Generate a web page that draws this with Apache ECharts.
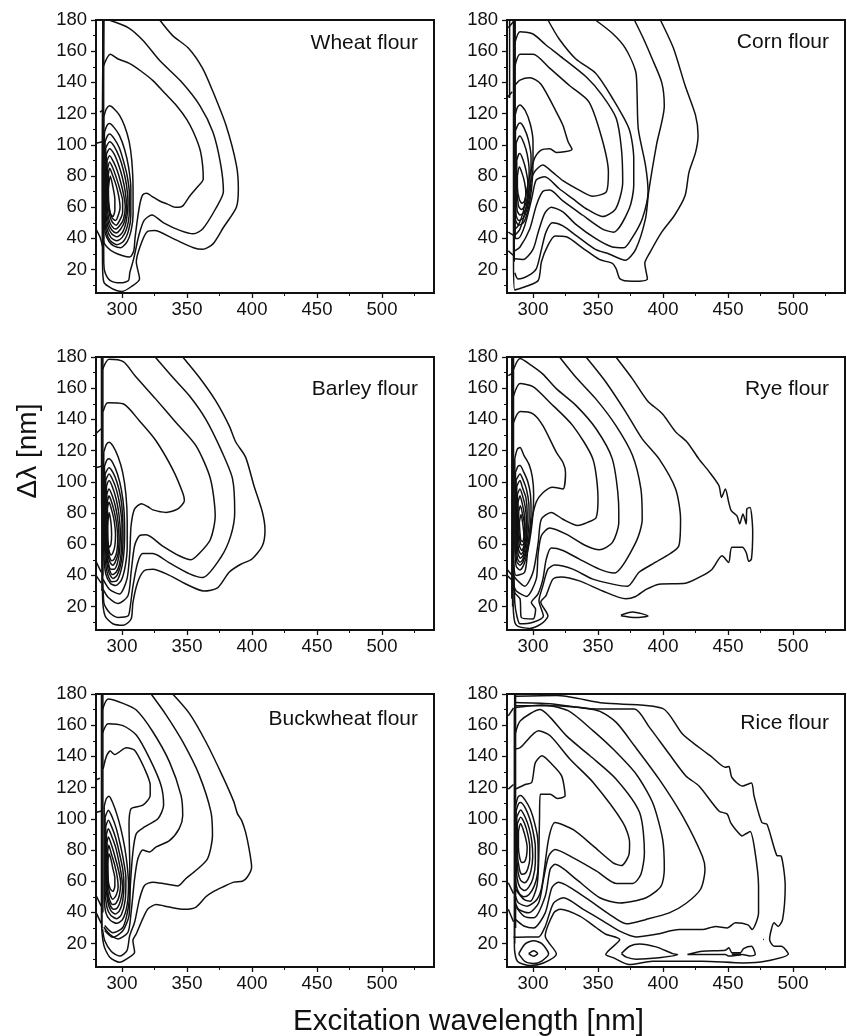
<!DOCTYPE html>
<html><head><meta charset="utf-8">
<style>html,body{margin:0;padding:0;background:#fff}#c{width:847px;height:1036px}</style>
<script src="https://cdn.jsdelivr.net/npm/echarts@6/dist/echarts.min.js"></script>
</head><body><div id="c"></div>
<script>
const xTicks=[300,350,400,450,500];
const xMinor=[325,375,425,475,525];
const yTicks=[20,40,60,80,100,120,140,160,180];
const yMinor=[10,30,50,70,90,110,130,150,170];
const xTitle="Excitation wavelength [nm]";
const yTitle="\u0394\u03bb [nm]";

const wheat=[
[[329,180],[339,170],[351,162],[362,149],[370,134],[380,112.5],[388,87],[389.5,72],[388,60],[378,47],[370,36.5],[362,33],[355,34],[339,40],[325,45],[319,44],[314,35],[311,25],[313.5,14],[307,9],[300,6],[292,8],[286,12],[285,25],[284.7,83],[285.5,180]],
[[290,180],[305,175],[316,167],[329,154],[345,141],[360,125],[370,108],[376,87],[378,70],[372,59],[362,46],[355,43],[345,45],[332,50],[323,55],[317,51.5],[313,42],[309,27],[306,18],[305,13],[299,11.5],[291,13],[287,18],[286,24],[285.5,125],[286,180]],
[[285.5,150],[291,158],[297,155],[306,152],[315,147],[324,141],[333,133],[342,125],[350,116],[355,108],[360,97],[362,87],[362.5,78],[357,72],[352,67],[347,61],[344,60],[341,60],[335,62],[329,64],[323,67],[319,69],[316,68],[314,63],[312,53],[310,40],[309,32],[306,28],[300,29],[294,31],[289,34],[286,38],[285.5,60],[285.5,150]],
[[286,118],[288,123],[290.5,125],[294,123],[298,119],[302,112],[305.5,102],[307.5,90],[308.5,72],[308.5,55],[307,45],[304,38],[299,34],[294,35],[290,38],[287,44],[286,60],[285.8,90],[286,118]],
[[286.5,108],[288.5,112.5],[290.5,113.6],[294,111],[298,106],[302,97],[305,86],[306.8,72],[306.8,55],[305,45],[301,38],[296,36],[291,38.5],[288,44],[286.5,55],[286.2,85],[286.5,108]],
[[287,102],[289,106],[290.5,107],[294,104],[298,98],[301,90],[304,80],[305.7,68],[305.5,55],[303.5,46],[300,40.5],[296,38.5],[291.5,40.5],[288.5,46],[287,56],[286.8,82],[287,102]],
[[287.5,98],[290.5,102],[294,99],[298,92],[301,84],[303.5,74],[304.6,63],[303.5,52],[300.5,44],[296,41],[292,43],[289,48],[287.5,58],[287.3,80],[287.5,98]],
[[288,94],[290.5,97.5],[294,94],[297,88],[300,80],[302.5,70],[303.5,60],[302,51],[299,46],[295.5,43.5],[292,45.5],[289.5,50],[288,60],[288,94]],
[[288.5,90],[290.5,93],[293.5,89],[296.5,83],[299,76],[301.5,67],[302.5,60],[301,52],[298,48],[295,46],[292,48],[290,52],[288.5,62],[288.5,90]],
[[289,85],[290.5,89],[293,85],[296,78],[298.5,71],[300.5,64],[300.5,57],[298.5,52],[295.5,48.5],[292.5,50.5],[290.5,55],[289,65],[289,85]],
[[289.5,81],[290.5,85],[293,80],[295.5,74],[297.5,67],[298.5,60],[297,54.5],[295,51.5],[292.5,53],[290.5,58],[289.5,68],[289.5,81]],
[[289.5,72],[291,80],[293,73],[294.5,65],[294.5,58],[293,54],[291,56],[289.5,64],[289.5,72]],
[[290.5,69],[291,69]],
[[285.2,180],[285.2,30]],[[285.9,180],[285.9,40]],
[[280,46],[283,41],[285,35]],[[280,101],[285,102]],[[283,121],[285,122]]
];

const corn=[
[[398,180],[408,162],[417,138],[425,119],[427,106],[425,95],[420,82.5],[417,67.5],[409,55],[399,44],[390,31],[386,24],[388,14],[376,12.5],[367,14],[364,20.5],[361,24],[351,26.5],[338,34],[325.5,41],[317,41.5],[311.5,35.5],[306.5,25],[304,13],[294,9],[286,7],[285,25]],
[[378,180],[385,168],[391.5,155.5],[399,140],[401,125],[395,100],[389,70],[386.5,52.5],[379,33],[371,26],[358.5,30],[348,33],[333,42],[323,48],[315,50],[310,44],[306.5,33],[302.5,20.5],[296,16],[288.5,14],[286,18]],
[[348,180],[361,171.5],[371,162],[379,147],[380,134],[381,110],[386.5,87],[388.5,70],[384,52.5],[376,40],[370,34],[361,34.5],[348,40],[333,49],[323,57],[314,60],[309,56],[304,44],[300,33],[292.5,26.5],[286,27]],
[[311.5,180],[320,168],[333,155],[348,146],[361,130],[374,110],[377.5,91],[377.5,74],[374,59],[362,44],[353.5,46],[338,55],[323,64],[313,71],[307.5,70],[302.5,61],[297.5,46],[290,34.5],[286,32]],
[[286,165],[290,172.5],[300,171],[310,164],[320,157.5],[341,143.5],[353,132],[364,117],[368,97.5],[369,76],[363.6,59],[353.5,54],[341,59],[330.5,65.5],[320,72],[309,79.5],[302.5,77.5],[299,65.5],[293.6,48],[288.5,40],[286,40]],
[[286,150],[290,158],[300,158],[313,149],[328,138],[343,127.5],[353,104],[358,82.5],[356.5,70],[346,67],[335.5,71],[323,77],[315,82.5],[307.5,87],[301,82.5],[297.5,74],[295,61],[290,46],[286,42]],
[[286,138],[290,141.5],[297.5,143],[306,139],[318,121],[323,112.5],[327,102],[330,97],[324,95.5],[318,95],[313,97.5],[306,96.5],[301,91],[297.5,80],[295,70],[292.5,57],[288.5,48],[286,46]],
[[286,118],[288,124],[290,125.5],[294,122],[298,113],[300,102],[300,90],[299.5,78],[298,66],[295.5,56],[292.5,50],[289,48.5],[286.5,52],[286,70],[285.8,95],[286,118]],
[[286.5,109],[288.5,113],[290,114],[293,111],[296.5,103],[298.5,92],[298.5,80],[297.5,68],[295.5,59],[292.5,53],[289,51.5],[287,55],[286.5,75],[286.5,109]],
[[287,101],[289,105],[290,105.6],[293,101],[295.5,94],[297,84],[297,72],[295.5,62],[293,56.5],[290,55],[287.8,58],[287,75],[287,101]],
[[287.5,90],[289,94],[290,94.5],[292.5,90],[294.5,84],[296,76],[295.5,66],[293.5,60.5],[291,58.5],[288.8,61],[287.5,75],[287.5,90]],
[[288,80],[289.5,86],[291.5,82],[293.5,76],[294.5,69],[293.5,64],[291.5,62.5],[289.5,65],[288,73],[288,80]],
[[285,180],[285,25]],[[285.6,180],[285.6,25]],[[286.3,180],[286.3,40]],
[[282,180],[282,130]],[[281,175],[285,179]],[[280,130],[284,134]],[[281,44],[285,42]],[[281,32],[285,29]]
];

const barley=[
[[346.7,180],[359.4,167],[372,152],[382.4,136],[387.5,125.5],[395,116],[401.5,97.5],[408,80.5],[410,69],[408,59],[400,50.5],[391,47],[382.4,42],[373.5,32],[363,30],[349,34.5],[336.5,40],[323.7,44],[317,43],[312,35.5],[308.4,22.6],[307,12],[301,8],[293,9],[287,14],[285,27],[284.2,145],[284.2,180]],
[[325.5,180],[339,167],[352,155],[364.5,140],[377,119],[385,102],[386.7,80.5],[383.7,65.5],[376,51.5],[362,38.6],[352,41],[336.5,48],[323.7,54],[316,54],[312,48],[308.4,33],[306,18],[304.6,14],[297,13],[290.5,16],[286,22.6],[285,60]],
[[285,172],[290,178.5],[301,177],[310,168],[326,153],[341.5,138],[357,123],[368,102],[371.7,78],[368,63],[359.4,54],[353,50],[344,52.6],[331,59],[318.6,66],[313.5,65.5],[309.7,59],[307,42],[304.6,27],[297,22],[289.3,26],[285.5,31]],
[[285.5,145],[289,150.7],[300.8,150],[313.5,139],[326,126.5],[339,108],[346.7,93],[348,88],[343,82.6],[334,80.4],[323.7,82],[320,84],[315,86],[309.7,82.6],[307,72],[306,54.7],[303.8,37.6],[298,28],[290.5,31],[285.5,37.5]],
[[286,119],[288,124],[290,125.4],[293,123],[297,116],[300.5,106],[303,92],[304,75],[304,58],[302.5,46],[299.5,37],[295,33.5],[291,35],[287.5,41],[286,55],[285.8,90],[286,119]],
[[286.5,110],[288.5,114],[290,114.7],[293,112],[296.5,105],[299.5,95],[301.5,82],[302,68],[301.5,55],[299.5,44],[296,36.5],[292,36],[288.5,42],[286.8,55],[286.5,85],[286.5,110]],
[[287,105],[290,109],[293,106],[296,100],[299,90],[300.5,78],[300.8,62],[299.5,49],[296.5,40.5],[293,38],[289.5,43],[287.5,55],[287,80],[287,105]],
[[287.5,101],[290,105],[293,101],[296,94],[298.5,84],[300,72],[299.5,56],[298,47],[295.5,42],[292.5,40.5],[290,45],[288,55],[287.5,78],[287.5,101]],
[[288,97],[290,100.8],[292.5,97],[295.5,89],[297.5,80],[298.7,68],[298.2,56],[296.5,48],[294,44],[291.5,44],[289,50],[288,60],[288,97]],
[[288.3,92],[290,95.4],[292.5,91],[295,84],[297,74],[297.7,64],[297,54],[295,49],[293,46.5],[291,48],[289,54],[288.3,65],[288.3,92]],
[[288.6,87],[290,91],[292,87],[294,81],[296,72],[296.7,63],[296,55],[294,50.5],[292,49.4],[290,53],[288.6,65],[288.6,87]],
[[288.8,83],[290,87],[292,82],[294,75],[295,66],[294.5,59],[293,54.5],[291.5,53],[289.8,57],[288.8,68],[288.8,83]],
[[289,72],[290,80.4],[291.5,74],[292,66],[291.5,60],[290.2,58],[289,62],[289,72]],
[[284.6,180],[284.6,30]],[[285.3,180],[285.3,40]],
[[280,131],[284,134]],[[280,109],[284,110]],[[280,49],[284,42]],[[280,40],[284,35]]
];

const rye=[
[[363.8,180],[376.5,166],[388,152],[399.5,143.6],[409.7,132],[418.6,125.4],[427.5,114.7],[435,107],[443,97.6],[445,90],[448,95.4],[450.5,87],[452.5,81.5],[457,78],[459,73],[461.5,79.4],[464,73],[464.5,82.6],[467,83.6],[469,67.6],[468,50.4],[466,49],[464,54.7],[461,58],[453,58],[450.5,48.3],[445.4,52.6],[437.8,44],[430,39.7],[417.3,35],[397,34.4],[387,31],[379,26.5],[371.4,25],[353.6,30],[335.7,36.5],[321.7,39],[315.3,37.6],[310,27],[306,23],[311.5,14],[306,8.7],[297.4,6],[287.2,8],[285,16],[284.5,40]],
[[340.8,180],[356,164],[371.4,144.7],[384,127.5],[397,114.7],[409.7,95.4],[413.5,76],[412.2,59],[394,48.3],[381.6,42],[372.7,33],[361.2,34.4],[346,37.6],[330.6,44],[316.6,46.6],[311.5,44],[307.6,33.3],[304.6,23.7],[308,14],[300,10],[290,9],[287.6,14],[286,22.6],[285,50]],
[[320.4,180],[333,167],[348.5,153],[363.8,136],[376.5,117],[383,95.4],[384,76],[379,61],[362.5,41.5],[351,44],[335.7,50.4],[323,56],[314,57.5],[310.2,50.4],[307.6,37.6],[303.8,28],[298.7,22.6],[302,18.3],[300,12],[291,13],[290,25],[286,29],[285,45]],
[[285,172],[290,179],[298.7,174.6],[307.6,169],[317.9,159.7],[333,149],[348.5,134],[361,114.7],[365.8,87],[366,74],[361,61],[351,56.4],[340.8,59],[325.5,66.5],[312.8,70.4],[306.4,65.4],[303.8,52.6],[302.5,37.6],[295,26.5],[287.2,30],[285,34]],
[[285,155],[290,163],[300,161],[312.8,151],[330.6,136],[346,114.7],[350,89],[348.5,77],[342,74],[334.4,72],[323,76],[314,80.4],[306.4,76],[304,61],[300,42],[293.6,33],[287,37.6],[285,40]],
[[285,138],[290,145],[300,143.6],[307.6,136],[317.9,119],[323,112.5],[325,106],[323,95.4],[315,96.5],[307.6,93],[302.5,87],[298.7,74],[296,57],[293.6,42],[287,40],[285,50]],
[[286,115],[288,121],[290,122],[293,117],[297,111],[299.5,103],[300.5,92],[300,80],[298.5,68],[296,56],[293,47],[290,43.5],[287,46],[286,60],[286,115]],
[[286.5,106],[288.5,110],[290,110.4],[293,106],[296,100],[298,92],[298.5,80],[297.5,68],[295.5,57],[292.5,49],[290,46.5],[287.5,49],[286.5,62],[286.5,106]],
[[287,101],[290,105],[292.5,101],[295,95],[296.8,86],[297,76],[296,65],[294.5,56],[292,50],[290,48.5],[288,51],[287,65],[287,101]],
[[287.5,97],[290,100.8],[292,96],[294.5,90],[295.5,80],[295.5,70],[294.5,60],[292.5,53],[290.3,51],[288.5,54],[287.5,68],[287.5,97]],
[[288,92],[290,95.4],[292,91],[294,84],[295,74],[294.5,63],[292.8,56],[290.8,53.5],[288.8,57],[288,70],[288,92]],
[[288.5,87],[290,91],[292,85],[293.5,78],[294,68],[293.3,60],[291.5,56],[289.5,59],[288.5,70],[288.5,87]],
[[289,81],[290.3,84.7],[292,79],[293.5,72],[293.5,64],[292.3,59.5],[290.5,60],[289,70],[289,81]],
[[289.5,74],[290.8,79],[292.3,72],[293,65],[292,61.5],[290.5,63],[289.5,74]],
[[367.6,14.5],[376.5,16.6],[388.5,14],[379,13],[367.6,14.2]],
[[283.7,180],[283.7,25]],[[284.3,180],[284.3,20]],[[285,180],[285,30]],
[[281,168],[285,170]],[[280,44],[284,40]],[[280,40],[284,37]]
];

const buckwheat=[
[[339,180],[351.8,167.6],[364.5,149.4],[377,128],[386,111],[388.8,103.3],[392,99],[395,91.6],[397.7,81],[399.7,69],[396.4,62.7],[392.6,60],[386,59.4],[377.3,56.2],[369.6,53],[364.5,50],[357,43.4],[348,42],[336.5,43.4],[326.3,45],[320,42.3],[316,36],[311,26.3],[308.4,22],[309.7,14.5],[303.3,10],[298.2,8],[290.6,11.3],[286,19],[284.2,36],[284.2,180]],
[[322.4,180],[334,166.5],[346.7,149.4],[359.4,128],[368.4,104.4],[369.6,89.4],[365.8,74.4],[357,67],[349,61.6],[343,57],[332.6,58.4],[323.7,59.4],[317.3,57.3],[313.5,48.7],[309.7,33.7],[305.9,25],[303.8,15.5],[298.2,12],[291.8,15],[286.7,22],[285,29.5]],
[[285,170],[289.3,176.8],[300.8,174],[311,169.7],[323.7,155.8],[336.5,136.5],[345.4,115],[346.7,102],[344,93.7],[336.5,86],[326.3,82],[321.2,78.7],[316,80],[312.2,74.4],[309.7,61.6],[307,40],[304.6,27.3],[297,23],[290.6,26],[286,30.5]],
[[285,155],[289.3,161],[300.8,159.7],[311,153.7],[321.2,138.7],[330,121.5],[332,108.7],[327.6,100],[317.3,94.8],[311,90.5],[308.4,78.7],[306.4,57],[305.4,38],[300.8,28.4],[293,24],[286.7,28.4]],
[[285.5,132],[288,140],[291,143.4],[294.4,141.2],[303.3,145.5],[309.7,144],[317.3,132.2],[321.7,121.5],[321.7,115],[316,108.7],[307,106.5],[305.4,96],[306,68],[305.4,46.6],[300.8,30.5],[293,27],[286.7,31.6]],
[[286.3,108],[288,113],[290,114.5],[293,110],[296,103],[299,94],[302,82],[304,70],[305,58],[304,45],[300.5,35.5],[296,33],[291,35],[287.5,40],[286.3,52],[286.3,108]],
[[287,101],[289.5,105.5],[292.5,101],[295.5,94],[298.5,84],[301,74],[303,62],[302.5,48],[299.5,38.5],[296,36],[291.5,38],[288.5,43],[287,55],[287,101]],
[[287.5,95],[289.5,99],[292,95],[295,88],[298,78],[300.5,68],[301.5,58],[300.5,47],[298,41],[295,39],[291.5,41],[289,47],[287.5,60],[287.5,95]],
[[288,90],[289.5,93.7],[292,89],[295,82],[297.5,73],[299.5,64],[300.5,56],[299,48],[296.5,43],[293.5,42],[291,44.5],[289,50],[288,65],[288,90]],
[[288.5,85],[289.5,88.4],[292,83],[294.5,76],[297,68],[299,59],[298,51],[295.5,46],[293,45],[290.5,48],[289,54],[288.5,70],[288.5,85]],
[[289,79],[289.8,83],[292,77],[294.5,70],[296.5,62],[297,56],[295.5,51],[293,48.5],[291,51],[289.5,57],[289,70],[289,79]],
[[289,72],[290,77.6],[291.5,74],[293,68],[294.5,62],[294.5,57],[293,53.5],[291,55],[289.5,60],[289,72]],
[[284.6,180],[284.6,30]],[[285.3,180],[285.3,40]],
[[280,125],[283,126]],[[280,104],[284,105]],[[280,51],[284,44]],[[280,40],[284,33]]
];

const rice=[
[[286.5,178.5],[318,179],[354,174.2],[399.7,170.8],[415,154.3],[427.8,145.7],[438,139.3],[448,133],[450.7,133.5],[453,126.5],[461,121],[468,123],[470,114.7],[476,97.6],[480,96.5],[487.5,76.6],[491,76],[494,57],[492,35.5],[488.6,31],[485.5,33.3],[482,22.6],[485.5,18.3],[491,18.3],[496.4,13.4],[478.6,8.7],[462,7.6],[430,8.7],[392,8.7],[374,6.6],[361.6,11],[356,13],[366.7,22.6],[356,26],[349,30],[336,37.6],[321,42],[316,39.7],[309.4,24.8],[318,13.4],[308,7.6],[298,6],[288,8.7],[285.7,18],[285.7,170]],
[[286.5,174.6],[313,173.8],[350,170.4],[378,170.4],[389.6,158.6],[404.8,141.5],[417.6,127.5],[427.7,121],[443,105],[449.4,103],[452,97.6],[458,91],[460.8,89],[463,90],[467,91.8],[470.5,80.4],[473.5,57],[473.5,39.7],[468.5,29],[465.4,32],[455.7,33.3],[449.4,30],[440.5,31],[430,29],[412.5,29],[394.7,26],[379.4,24.3],[366.7,28],[354,34.4],[338.7,42],[323.4,49.4],[315.8,46],[309.4,31],[304.3,24.3],[295.4,24.3],[285,24]],
[[286.5,172.5],[313,172.5],[350,169.3],[364,161.8],[378,146.8],[397,125.4],[415,101.8],[430.3,76],[432.3,67.6],[429,55],[417.6,45.7],[404.8,39.7],[387,35.5],[371.8,32.7],[359,38.6],[338.7,50.4],[319.6,59.4],[314.5,55.8],[309.4,39.7],[300.5,30],[293,31.3],[286.5,35.5]],
[[286.5,171.4],[307,173],[327,169.3],[346.3,156.4],[361.6,144.7],[379.4,128.6],[392,110.4],[399.7,87],[401,67.6],[398.5,56.9],[387,49.4],[366.7,46],[351.4,49.4],[333.6,61],[317,70.8],[313.2,67.6],[309.4,50.4],[300.5,36.5],[293,37.6],[286.5,44]],
[[286.5,155],[290.3,162.9],[305.6,170],[313.2,165],[326,153],[343.8,140.4],[364,125.4],[382,104],[385.7,78.3],[383,64.4],[376.8,58.6],[364,58.6],[348.9,66.5],[331,75],[317,80.4],[312,76],[308,61],[304.3,46],[296.7,39.7],[289,41.9],[286.5,46]],
[[286.5,144.7],[290.3,145.7],[304.3,156.4],[313.2,153.2],[328.5,138.2],[346.3,123.3],[369.2,97.6],[374.3,84.7],[373.8,77],[368,70],[361.6,71.8],[346.3,82.6],[331,93],[317,97.6],[312,87],[306.9,56.9],[303,48.3],[295.4,44],[289,46],[286.5,50.4]],
[[286.5,119],[294,122],[299,123.3],[301.8,136],[306.9,140.4],[314.5,135],[322,127.5],[324.7,114.7],[318.8,113],[313.2,115.8],[305.6,115.8],[305,99.7],[304.3,71.8],[303,56.9],[298,47.2],[293,48.3],[286.5,55]],
[[286.5,108],[288.5,114],[290.5,115],[294,112],[298,106],[301,98],[303.5,88],[304,75],[303.5,65],[301,57],[297,51.5],[293,50],[289.5,52],[287,58],[286.5,70],[286.5,108]],
[[287,105],[289,109.8],[290.5,110.4],[294,107],[297.5,100],[300,92],[301.8,82],[301.8,72],[300,62],[297,56.5],[293.5,54],[290,56],[287.8,62],[287,75],[287,105]],
[[287.5,101],[290.5,105.7],[294,101],[297,94],[299,86],[299.8,76],[298.5,67],[296,61],[293.5,59],[290.5,60.5],[288.5,66],[287.5,78],[287.5,101]],
[[288,97],[290.5,101],[293.5,97],[296,90],[297.5,82],[297.5,74],[296,68],[294,65],[291.5,64.5],[289.5,68],[288,78],[288,97]],
[[288.8,92],[290.5,97],[292.5,93],[294.5,87],[295.5,82],[295,76],[293.5,72.5],[291.5,72],[289.8,75],[288.8,82],[288.8,92]],
[[290.5,87],[291,87]],
[[289,13.4],[294,19.8],[300.5,21.8],[307,19.8],[312,13.4],[307,9],[300.5,7.3],[294,8.4],[289,13.4]],
[[296.7,13.6],[300.5,15.4],[303.6,13.6],[300.5,11.9],[296.7,13.6]],
[[368,13.6],[374.3,18.3],[382,19.8],[394.7,17.9],[407.5,13.6],[411.3,13],[394.7,10.7],[379.4,10],[371.8,11.3],[368,13.6]],
[[418.8,13],[430.3,15.1],[448,15.8],[450.7,17.3],[453,14.2],[459.5,14.2],[462,16.8],[468,18.3],[471,13],[467,12],[461,13],[453,12],[450.7,12],[448,13],[430.3,13],[418.8,13]],
[[453,13.4],[460,13.4]],[[453,12.9],[460,12.9]],[[477,22.6],[477.6,22.6]],
[[285.9,180],[285.9,20]],[[286.6,180],[286.6,30]],
[[281,166],[285,171]],[[281,119],[285,122]],[[281,59],[285,52]],[[281,42],[285,34]]
];

const panels=[
 {name:"Wheat flour",   c:wheat,    l:96, t:20,  ly:42},
 {name:"Corn flour",    c:corn,     l:507,t:20,  ly:41},
 {name:"Barley flour",  c:barley,   l:96, t:357, ly:388},
 {name:"Rye flour",     c:rye,      l:507,t:357, ly:388},
 {name:"Buckwheat flour",c:buckwheat,l:96,t:694, ly:718},
 {name:"Rice flour",    c:rice,     l:507,t:694, ly:722}
];
const W=338,H=273,ink="#111111",font="Liberation Sans, Arial, sans-serif";
const grid=[],xAxis=[],yAxis=[],series=[],graphic=[];
panels.forEach((p,i)=>{
  grid.push({left:p.l,top:p.t,width:W,height:H,show:true,borderColor:ink,borderWidth:2,backgroundColor:"#fff"});
  const line={show:true,lineStyle:{color:ink,width:2}};
  xAxis.push({type:"value",gridIndex:i,min:280,max:540,position:"bottom",splitLine:{show:false},axisLine:line,
    axisTick:{show:true,length:5,lineStyle:{color:ink,width:1.3},customValues:xTicks},
    axisLabel:{show:true,customValues:xTicks,margin:7,fontSize:18.5,color:ink,fontFamily:font}});
  xAxis.push({type:"value",gridIndex:i,min:280,max:540,position:"bottom",splitLine:{show:false},axisLine:{show:false},
    axisTick:{show:true,length:3,lineStyle:{color:ink,width:1},customValues:xMinor},axisLabel:{show:false}});
  yAxis.push({type:"value",gridIndex:i,min:5,max:180,position:"left",splitLine:{show:false},axisLine:line,
    axisTick:{show:true,length:5,lineStyle:{color:ink,width:1.3},customValues:yTicks},
    axisLabel:{show:true,customValues:yTicks,margin:9,fontSize:18.5,color:ink,fontFamily:font}});
  yAxis.push({type:"value",gridIndex:i,min:5,max:180,position:"left",splitLine:{show:false},axisLine:{show:false},
    axisTick:{show:true,length:3,lineStyle:{color:ink,width:1},customValues:yMinor},axisLabel:{show:false}});
  p.c.forEach(pts=>series.push({type:"line",xAxisIndex:i*2,yAxisIndex:i*2,data:pts,showSymbol:false,symbol:"none",smooth:0.25,
    silent:true,animation:false,clip:true,lineStyle:{color:ink,width:1.5}}));
  graphic.push({type:"text",right:847-(p.l+322),y:p.ly-9,style:{text:p.name,font:"21px "+font,fill:ink}});
});
graphic.push({type:"text",x:293,y:1007,style:{text:xTitle,font:"29.5px "+font,fill:ink}});
graphic.push({type:"text",x:28,y:451,rotation:Math.PI/2,style:{text:yTitle,font:"28px "+font,fill:ink,align:"center",verticalAlign:"middle"}});
const chart=echarts.init(document.getElementById("c"),null,{renderer:"canvas"});
chart.setOption({animation:false,backgroundColor:"#fff",grid,xAxis,yAxis,series,graphic});
</script></body></html>
